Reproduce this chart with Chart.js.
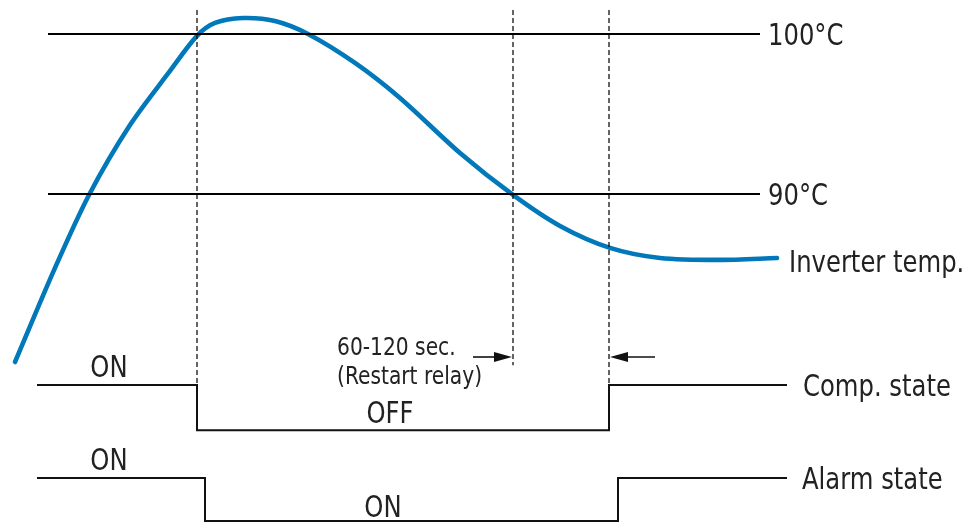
<!DOCTYPE html>
<html>
<head>
<meta charset="utf-8">
<script src="https://cdn.jsdelivr.net/npm/chart.js@4.4.1/dist/chart.umd.min.js"></script>
<style>
  html, body { margin: 0; padding: 0; background: #fff; }
  #wrap { width: 977px; height: 523px; }
</style>
</head>
<body>
<div id="wrap"><canvas id="chart-overheat" width="977" height="523"></canvas></div>
<script>
// time axis is in arbitrary units, temperature in °C, states on their own level axis
var curveTime = [15, 55, 89, 130, 170, 197, 215, 243, 275, 308, 355, 400, 460, 513, 560, 610, 660, 720, 777];
var curveTemp = [79.5, 85.38, 89.94, 94.31, 97.69, 99.88, 100.69, 101.0, 100.81, 100.0, 98.19, 96.0, 92.56, 89.94, 88.0, 86.63, 86.0, 85.88, 86.0];

var limitTemps = [100, 90];
var limitLabels = ["100°C", "90°C"];
var limitStart = 48, limitEnd = 760;

var compTime  = [37, 197, 197, 609, 609, 787];
var compLevel = [3, 3, 2, 2, 3, 3];
var alarmTime  = [37, 205, 205, 618, 618, 787];
var alarmLevel = [0.95, 0.95, 0, 0, 0.95, 0.95];

var markerTimes = [197, 513, 609];
var markerTop = 101.5;
var markerBottom = [78.06, 79.3, 78.06];

function pts(xs, ys) {
    return xs.map(function(x, i) { return {x: x, y: ys[i]}; });
}

var datasets = [];
limitTemps.forEach(function(t) {
    datasets.push({
        data: [{x: limitStart, y: t}, {x: limitEnd, y: t}], yAxisID: 'y',
        borderColor: '#000', borderWidth: 2, pointRadius: 0, showLine: true
    });
});
markerTimes.forEach(function(t, i) {
    datasets.push({
        data: [{x: t, y: markerTop}, {x: t, y: markerBottom[i]}], yAxisID: 'y',
        borderColor: '#111', borderWidth: 1.3, borderDash: [5, 3], pointRadius: 0, showLine: true
    });
});
datasets.push({
    label: 'Comp. state', data: pts(compTime, compLevel), yAxisID: 'state',
    borderColor: '#111', borderWidth: 2, pointRadius: 0, showLine: true
});
datasets.push({
    label: 'Alarm state', data: pts(alarmTime, alarmLevel), yAxisID: 'state',
    borderColor: '#111', borderWidth: 2, pointRadius: 0, showLine: true
});
datasets.push({
    label: 'Inverter temp.', data: pts(curveTime, curveTemp), yAxisID: 'y',
    borderColor: '#0078b9', borderWidth: 4.6, tension: 0.3, borderCapStyle: 'round',
    pointRadius: 0, showLine: true, fill: false
});

var FONT = '"Liberation Sans Narrow", "DejaVu Sans Condensed", sans-serif';

var textPlugin = {
    id: 'diagramText',
    afterDatasetsDraw: function(chart) {
        var c = chart.ctx, x = chart.scales.x, y = chart.scales.y, s = chart.scales.state;
        function label(txt, px, py, align) {
            c.save();
            c.textAlign = align;
            c.translate(px, py + 3);
            c.scale(1, 1.1);
            c.fillText(txt, 0, 0);
            c.restore();
        }
        c.save();
        c.fillStyle = '#222';
        c.textBaseline = 'middle';
        c.font = '27px ' + FONT;
        limitTemps.forEach(function(t, i) {
            label(limitLabels[i], x.getPixelForValue(limitEnd) + 8, y.getPixelForValue(t), 'left');
        });
        var last = curveTime.length - 1;
        label('Inverter temp.', x.getPixelForValue(curveTime[last]) + 12, y.getPixelForValue(curveTemp[last]) + 3, 'left');
        label('Comp. state', x.getPixelForValue(compTime[5]) + 16, s.getPixelForValue(compLevel[5]), 'left');
        label('Alarm state', x.getPixelForValue(alarmTime[5]) + 15, s.getPixelForValue(alarmLevel[5]), 'left');

        label('ON', 109, s.getPixelForValue(compLevel[0]) - 19, 'center');
        label('OFF', 390, s.getPixelForValue(compLevel[2]) - 18, 'center');
        label('ON', 109, s.getPixelForValue(alarmLevel[0]) - 19, 'center');
        label('ON', 383, s.getPixelForValue(alarmLevel[2]) - 15, 'center');

        c.font = '22.5px ' + FONT;
        label('60-120 sec.', 337, 346, 'left');
        label('(Restart relay)', 337, 375, 'left');

        // arrows pointing at the restart interval markers
        var ay = 357;
        function arrow(from, to) {
            var dir = to > from ? 1 : -1;
            c.strokeStyle = '#111'; c.fillStyle = '#111'; c.lineWidth = 1.6;
            c.beginPath(); c.moveTo(from, ay); c.lineTo(to - dir * 12, ay); c.stroke();
            c.beginPath(); c.moveTo(to, ay); c.lineTo(to - dir * 18, ay - 5); c.lineTo(to - dir * 18, ay + 5); c.closePath(); c.fill();
        }
        arrow(473, x.getPixelForValue(markerTimes[1]) - 1);
        arrow(655, x.getPixelForValue(markerTimes[2]) + 1);
        c.restore();
    }
};

var ctx = document.getElementById('chart-overheat');
var chart = new Chart(ctx, {
    type: 'scatter',
    data: { datasets: datasets },
    options: {
        responsive: false,
        animation: false,
        layout: { padding: 0 },
        plugins: { legend: { display: false }, tooltip: { enabled: false } },
        scales: {
            x: { type: 'linear', min: 0, max: 977, display: false },
            y: { type: 'linear', min: 69.4375, max: 102.125, display: false },
            state: { type: 'linear', min: -0.044, max: 11.493, display: false }
        }
    },
    plugins: [textPlugin]
});
</script>
</body>
</html>
